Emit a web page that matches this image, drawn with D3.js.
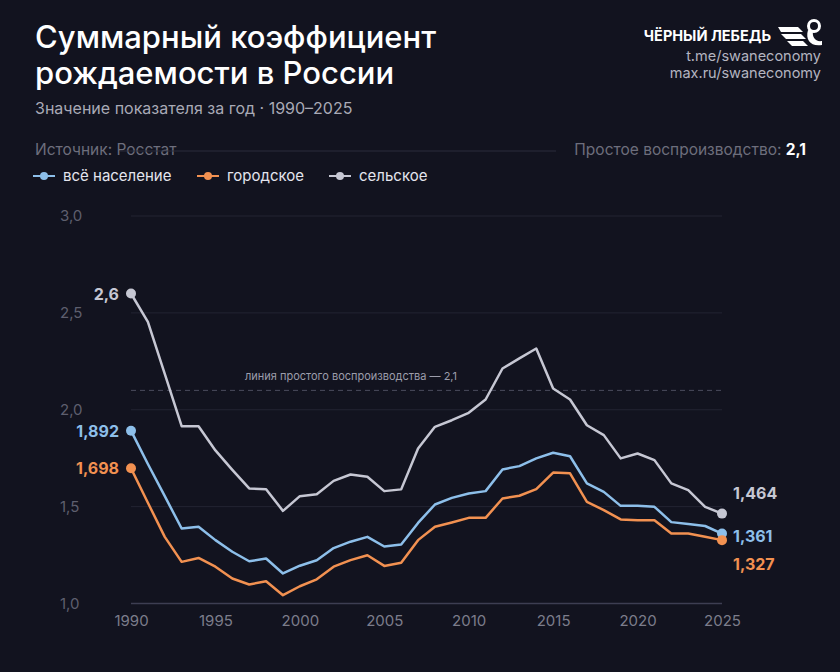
<!DOCTYPE html>
<html lang="ru">
<head>
<meta charset="utf-8">
<title>Суммарный коэффициент рождаемости в России</title>
<script src="https://d3js.org/d3.v7.min.js"></script>
<style>
    html, body { margin: 0; padding: 0; background: #12131f; }
    svg { display: block; font-family: Inter, "Noto Sans", sans-serif; }
</style>
</head>
<body>
<svg id="chart" width="840" height="672"></svg>
<script>
    // data
    let years = d3.range(1990, 2026);
    let total = [1.892, 1.72, 1.554, 1.387, 1.396, 1.327, 1.267, 1.218, 1.232, 1.155,
                 1.195, 1.223, 1.286, 1.319, 1.344, 1.294, 1.305, 1.416, 1.511, 1.545,
                 1.568, 1.58, 1.692, 1.709, 1.749, 1.778, 1.76, 1.62, 1.576, 1.504,
                 1.504, 1.499, 1.42, 1.41, 1.40, 1.361];
    let urban = [1.698, 1.52, 1.344, 1.215, 1.235, 1.19, 1.129, 1.098, 1.115, 1.043,
                 1.089, 1.125, 1.19, 1.224, 1.249, 1.194, 1.21, 1.327, 1.396, 1.418,
                 1.442, 1.442, 1.542, 1.556, 1.59, 1.676, 1.672, 1.525, 1.482, 1.434,
                 1.43, 1.43, 1.361, 1.361, 1.344, 1.327];
    let rural = [2.6, 2.454, 2.185, 1.915, 1.915, 1.79, 1.69, 1.594, 1.59, 1.478,
                 1.554, 1.564, 1.633, 1.666, 1.654, 1.58, 1.589, 1.80, 1.912, 1.946,
                 1.984, 2.053, 2.213, 2.265, 2.316, 2.11, 2.053, 1.92, 1.869, 1.749,
                 1.774, 1.74, 1.62, 1.585, 1.499, 1.464];
    let yTicks = [1.0, 1.5, 2.0, 2.5, 3.0];
    let xTicks = [1990, 1995, 2000, 2005, 2010, 2015, 2020, 2025];
    let replacement = 2.1;

    let series = [
        {name: "сельское", values: rural, color: "#c6c7d3", first: "2,6", last: "1,464"},
        {name: "всё население", values: total, color: "#8dbfea", first: "1,892", last: "1,361"},
        {name: "городское", values: urban, color: "#f29151", first: "1,698", last: "1,327"}
    ];
    let legendOrder = [series[1], series[2], series[0]];

    let svg = d3.select("#chart");
    let fmt = d3.format(".1f");
    let comma = v => fmt(v).replace(".", ",");

    let x = d3.scaleLinear().domain([1990, 2025]).range([131, 722]);
    let y = d3.scaleLinear().domain([1, 3]).range([603.5, 216]);

    // header
    svg.append("text").attr("x", 35).attr("y", 48)
        .attr("fill", "#ffffff").attr("font-size", 31).attr("font-weight", 500)
        .text("Суммарный коэффициент");
    svg.append("text").attr("x", 35).attr("y", 84)
        .attr("fill", "#ffffff").attr("font-size", 31).attr("font-weight", 500)
        .text("рождаемости в России");
    svg.append("text").attr("x", 35).attr("y", 114)
        .attr("fill", "#a9aab6").attr("font-size", 16)
        .text("Значение показателя за год · 1990–2025");

    // brand block
    svg.append("text").attr("x", 771).attr("y", 41).attr("text-anchor", "end")
        .attr("fill", "#ffffff").attr("font-size", 14.5).attr("font-weight", 700)
        .text("ЧЁРНЫЙ ЛЕБЕДЬ");
    svg.append("text").attr("x", 821).attr("y", 61).attr("text-anchor", "end")
        .attr("fill", "#b4b5c0").attr("font-size", 14.5)
        .text("t.me/swaneconomy");
    svg.append("text").attr("x", 821).attr("y", 78).attr("text-anchor", "end")
        .attr("fill", "#b4b5c0").attr("font-size", 14.5)
        .text("max.ru/swaneconomy");
    let logo = svg.append("g").attr("transform", "translate(778,18)").attr("fill", "#ffffff");
    logo.append("path").attr("d", "M0,9 L20,9 L25,14 L3,14 Z");
    logo.append("path").attr("d", "M3,16 L23,16 L28,21 L8,21 Z");
    logo.append("path").attr("d", "M9,23 L25,23 L30,28 L14,28 Z");
    logo.append("circle").attr("cx", 36).attr("cy", 8).attr("r", 5.5)
        .attr("fill", "none").attr("stroke", "#ffffff").attr("stroke-width", 3);
    logo.append("path").attr("d", "M30,12 C27,22 33,29 44,27 L44,23 C37,24 34,19 35,13 Z");

    // source row
    svg.append("text").attr("x", 35).attr("y", 155)
        .attr("fill", "#6d6e7c").attr("font-size", 15.5)
        .text("Источник: Росстат");
    svg.append("line").attr("x1", 120).attr("x2", 556).attr("y1", 151).attr("y2", 151)
        .attr("stroke", "#2b2c3c").attr("stroke-width", 1);
    let repl = svg.append("text").attr("x", 806).attr("y", 155).attr("text-anchor", "end")
        .attr("font-size", 15.5);
    repl.append("tspan").attr("fill", "#6d6e7c").text("Простое воспроизводство: ");
    repl.append("tspan").attr("fill", "#ffffff").attr("font-weight", 700).text(comma(replacement));

    // legend
    let legendX = [33, 197, 329];
    let leg = svg.selectAll("g.legend").data(legendOrder).enter().append("g")
        .attr("class", "legend")
        .attr("transform", (d, i) => `translate(${legendX[i]},176)`);
    leg.append("line").attr("x1", 0).attr("x2", 22)
        .attr("stroke", d => d.color).attr("stroke-width", 2);
    leg.append("circle").attr("cx", 11).attr("r", 4).attr("fill", d => d.color);
    leg.append("text").attr("x", 30).attr("y", 5)
        .attr("fill", "#e4e5ee").attr("font-size", 15)
        .text(d => d.name);

    // grid
    svg.append("g").selectAll("line").data(yTicks).enter().append("line")
        .attr("x1", 131).attr("x2", 722)
        .attr("y1", d => y(d)).attr("y2", d => y(d))
        .attr("stroke", d => d === 1 ? "#3d3e52" : "#232433")
        .attr("stroke-width", d => d === 1 ? 1.5 : 1);
    svg.append("g").selectAll("text").data(yTicks).enter().append("text")
        .attr("x", 60).attr("y", d => y(d) + 5)
        .attr("fill", "#5e5f6e").attr("font-size", 15)
        .text(d => comma(d));

    // x axis
    let xAxis = svg.append("g").attr("transform", "translate(0,604)")
        .call(d3.axisBottom(x).tickValues(xTicks).tickFormat(d3.format("d")).tickSize(0).tickPadding(11));
    xAxis.select(".domain").remove();
    xAxis.selectAll("text").attr("fill", "#7c7d8b").attr("font-size", 15)
        .attr("font-family", "Inter, sans-serif");

    // replacement line
    svg.append("line").attr("x1", 131).attr("x2", 722)
        .attr("y1", y(replacement)).attr("y2", y(replacement))
        .attr("stroke", "#4b4c5e").attr("stroke-width", 1).attr("stroke-dasharray", "5,4");
    svg.append("text").attr("x", 351).attr("y", y(replacement) - 10)
        .attr("text-anchor", "middle").attr("fill", "#9c9dab").attr("font-size", 11)
        .text("линия простого воспроизводства — " + comma(replacement));

    // lines
    let line = d3.line().x((d, i) => x(years[i])).y(d => y(d));
    svg.append("g").selectAll("path").data(series).enter().append("path")
        .attr("d", d => line(d.values))
        .attr("fill", "none").attr("stroke", d => d.color)
        .attr("stroke-width", 2.5).attr("stroke-linejoin", "round");

    // end points and labels
    let ends = svg.append("g");
    series.forEach(s => {
        let n = s.values.length - 1;
        ends.append("circle").attr("cx", x(years[0])).attr("cy", y(s.values[0]))
            .attr("r", 5).attr("fill", s.color);
        ends.append("circle").attr("cx", x(years[n])).attr("cy", y(s.values[n]))
            .attr("r", 5).attr("fill", s.color);
    });
    let lastY = {"сельское": 493, "всё население": 536, "городское": 564};
    series.forEach(s => {
        ends.append("text").attr("x", 119).attr("y", y(s.values[0]) + 6)
            .attr("text-anchor", "end").attr("fill", s.color)
            .attr("font-size", 16).attr("font-weight", 700)
            .text(s.first);
        ends.append("text").attr("x", 733).attr("y", lastY[s.name] + 6)
            .attr("fill", s.color)
            .attr("font-size", 16).attr("font-weight", 700)
            .text(s.last);
    });
</script>
</body>
</html>
